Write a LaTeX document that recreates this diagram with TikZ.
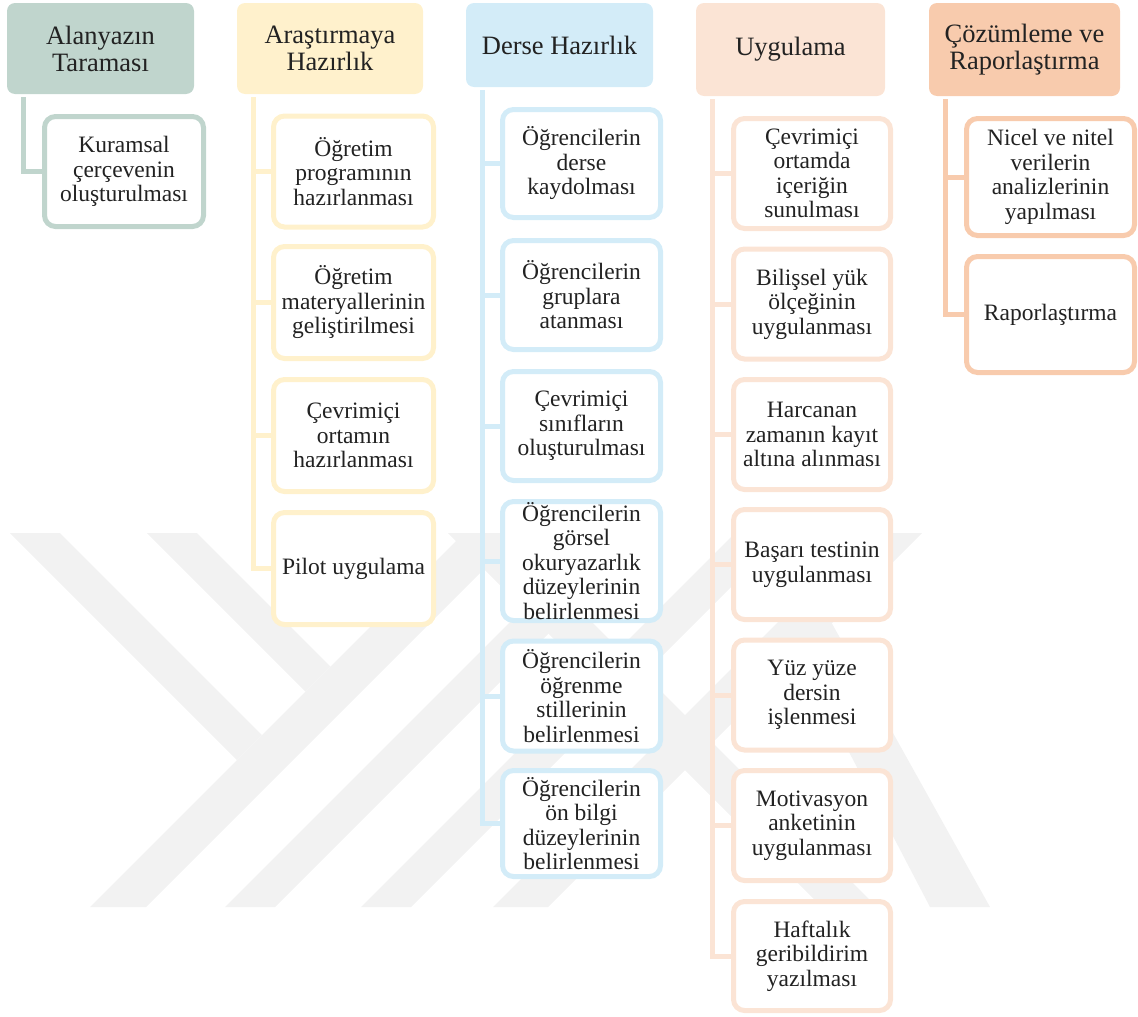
\documentclass[tikz,border=0pt]{standalone}
\usepackage{fontspec}
\setmainfont{Liberation Serif}
\definecolor{ink}{HTML}{222222}
\definecolor{cA}{HTML}{C0D5CD}
\definecolor{cB}{HTML}{FFF1CC}
\definecolor{cC}{HTML}{D3ECF8}
\definecolor{cD}{HTML}{FBE4D5}
\definecolor{cE}{HTML}{F8CBAD}
\definecolor{wm}{RGB}{242,242,242}
\begin{document}
\begin{tikzpicture}[x=1pt,y=-1pt,
  hdr/.style={fill=#1, draw=none, rounded corners=8pt, align=center, inner sep=0pt,
    font=\fontsize{26.5}{27}\selectfont, text=ink},
  item/.style={draw=#1, fill=white, line width=5pt, rounded corners=11pt, align=center,
    inner sep=0pt, font=\fontsize{23.5}{24.5}\selectfont, text=ink},
  link/.style={draw=#1, line width=5pt},
  trunk/.style={xshift=17pt, yshift=-3pt}
]
\useasboundingbox (0,0) rectangle (1138,1017);

% faint background emblem made of diagonal bands
\begin{scope}[fill=wm]
  \fill (10,533) -- (60,533) -- (262,735) -- (237,760) -- cycle;
  \fill (147,533) -- (197,533) -- (330.5,666.5) -- (305.5,691.5) -- cycle;
  \fill (90,907) -- (146,907) -- (520,533) -- (464,533) -- cycle;
  \fill (225,907) -- (275,907) -- (649,533) -- (599,533) -- cycle;
  \fill (361,907) -- (411,907) -- (785,533) -- (735,533) -- cycle;
  \fill (493,907) -- (548,907) -- (922,533) -- (867,533) -- cycle;
  \fill (448,533) -- (503,533) -- (877,907) -- (822,907) -- cycle;
  \fill (780,620) -- (830,620) -- (990,907) -- (930,907) -- cycle;
\end{scope}

% phase headers
\node[hdr=cA, minimum width=187pt, minimum height=91pt] (h1) at (100.5,48.5) {Alanyazın\\Taraması};
\node[hdr=cB, minimum width=186pt, minimum height=91pt] (h2) at (330,48.5) {Araştırmaya\\Hazırlık};
\node[hdr=cC, minimum width=187pt, minimum height=84pt] (h3) at (559.5,45) {Derse Hazırlık};
\node[hdr=cD, minimum width=189pt, minimum height=93pt] (h4) at (790.5,49.5) {Uygulama};
\node[hdr=cE, minimum width=191pt, minimum height=93pt] (h5) at (1024.5,49.5) {Çözümleme ve\\Raporlaştırma};

% start points of the branch trunks, just below each header
\coordinate (t1) at ([trunk]h1.south west);
\coordinate (t2) at ([trunk]h2.south west);
\coordinate (t3) at ([trunk]h3.south west);
\coordinate (t4) at ([trunk]h4.south west);
\coordinate (t5) at ([trunk]h5.south west);

% steps of each phase
\node[item=cA, minimum width=159pt, minimum height=110pt] (a1) at (124,171.5) {Kuramsal\\çerçevenin\\oluşturulması};

\node[item=cB, minimum width=160pt, minimum height=111pt] (b1) at (353.5,171.5) {Öğretim\\programının\\hazırlanması};
\node[item=cB, minimum width=160pt, minimum height=112pt] (b2) at (353.5,302.5) {Öğretim\\materyallerinin\\geliştirilmesi};
\node[item=cB, minimum width=160pt, minimum height=112pt] (b3) at (353.5,435.5) {Çevrimiçi\\ortamın\\hazırlanması};
\node[item=cB, minimum width=160pt, minimum height=112pt] (b4) at (353.5,568.5) {Pilot uygulama};

\node[item=cC, minimum width=158pt, minimum height=108pt] (c1) at (581.5,163.5) {Öğrencilerin\\derse\\kaydolması};
\node[item=cC, minimum width=158pt, minimum height=109pt] (c2) at (581.5,295) {Öğrencilerin\\gruplara\\atanması};
\node[item=cC, minimum width=158pt, minimum height=109pt] (c3) at (581.5,426) {Çevrimiçi\\sınıfların\\oluşturulması};
\node[item=cC, minimum width=158pt, minimum height=119pt] (c4) at (581.5,561) {Öğrencilerin\\görsel\\okuryazarlık\\düzeylerinin\\belirlenmesi};
\node[item=cC, minimum width=158pt, minimum height=110pt] (c5) at (581.5,696) {Öğrencilerin\\öğrenme\\stillerinin\\belirlenmesi};
\node[item=cC, minimum width=158pt, minimum height=106pt] (c6) at (581.5,823.5) {Öğrencilerin\\ön bilgi\\düzeylerinin\\belirlenmesi};

\node[item=cD, minimum width=157pt, minimum height=110pt] (d1) at (812,173.5) {Çevrimiçi\\ortamda\\içeriğin\\sunulması};
\node[item=cD, minimum width=157pt, minimum height=110pt] (d2) at (812,304) {Bilişsel yük\\ölçeğinin\\uygulanması};
\node[item=cD, minimum width=157pt, minimum height=110pt] (d3) at (812,434.5) {Harcanan\\zamanın kayıt\\altına alınması};
\node[item=cD, minimum width=157pt, minimum height=110pt] (d4) at (812,564.5) {Başarı testinin\\uygulanması};
\node[item=cD, minimum width=157pt, minimum height=110pt] (d5) at (812,695) {Yüz yüze\\dersin\\işlenmesi};
\node[item=cD, minimum width=157pt, minimum height=110pt] (d6) at (812,825.5) {Motivasyon\\anketinin\\uygulanması};
\node[item=cD, minimum width=157pt, minimum height=109pt] (d7) at (812,956) {Haftalık\\geribildirim\\yazılması};

\node[item=cE, minimum width=168pt, minimum height=117pt] (e1) at (1050.5,177) {Nicel ve nitel\\verilerin\\analizlerinin\\yapılması};
\node[item=cE, minimum width=168pt, minimum height=116pt] (e2) at (1050.5,314.5) {Raporlaştırma};

% branch lines from each phase to its steps
\draw[link=cA] (t1) |- (a1.west);
\foreach \n in {b1,b2,b3,b4} \draw[link=cB] (t2) |- (\n.west);
\foreach \n in {c1,c2,c3,c4,c5,c6} \draw[link=cC] (t3) |- (\n.west);
\foreach \n in {d1,d2,d3,d4,d5,d6,d7} \draw[link=cD] (t4) |- (\n.west);
\foreach \n in {e1,e2} \draw[link=cE] (t5) |- (\n.west);
\end{tikzpicture}
\end{document}
